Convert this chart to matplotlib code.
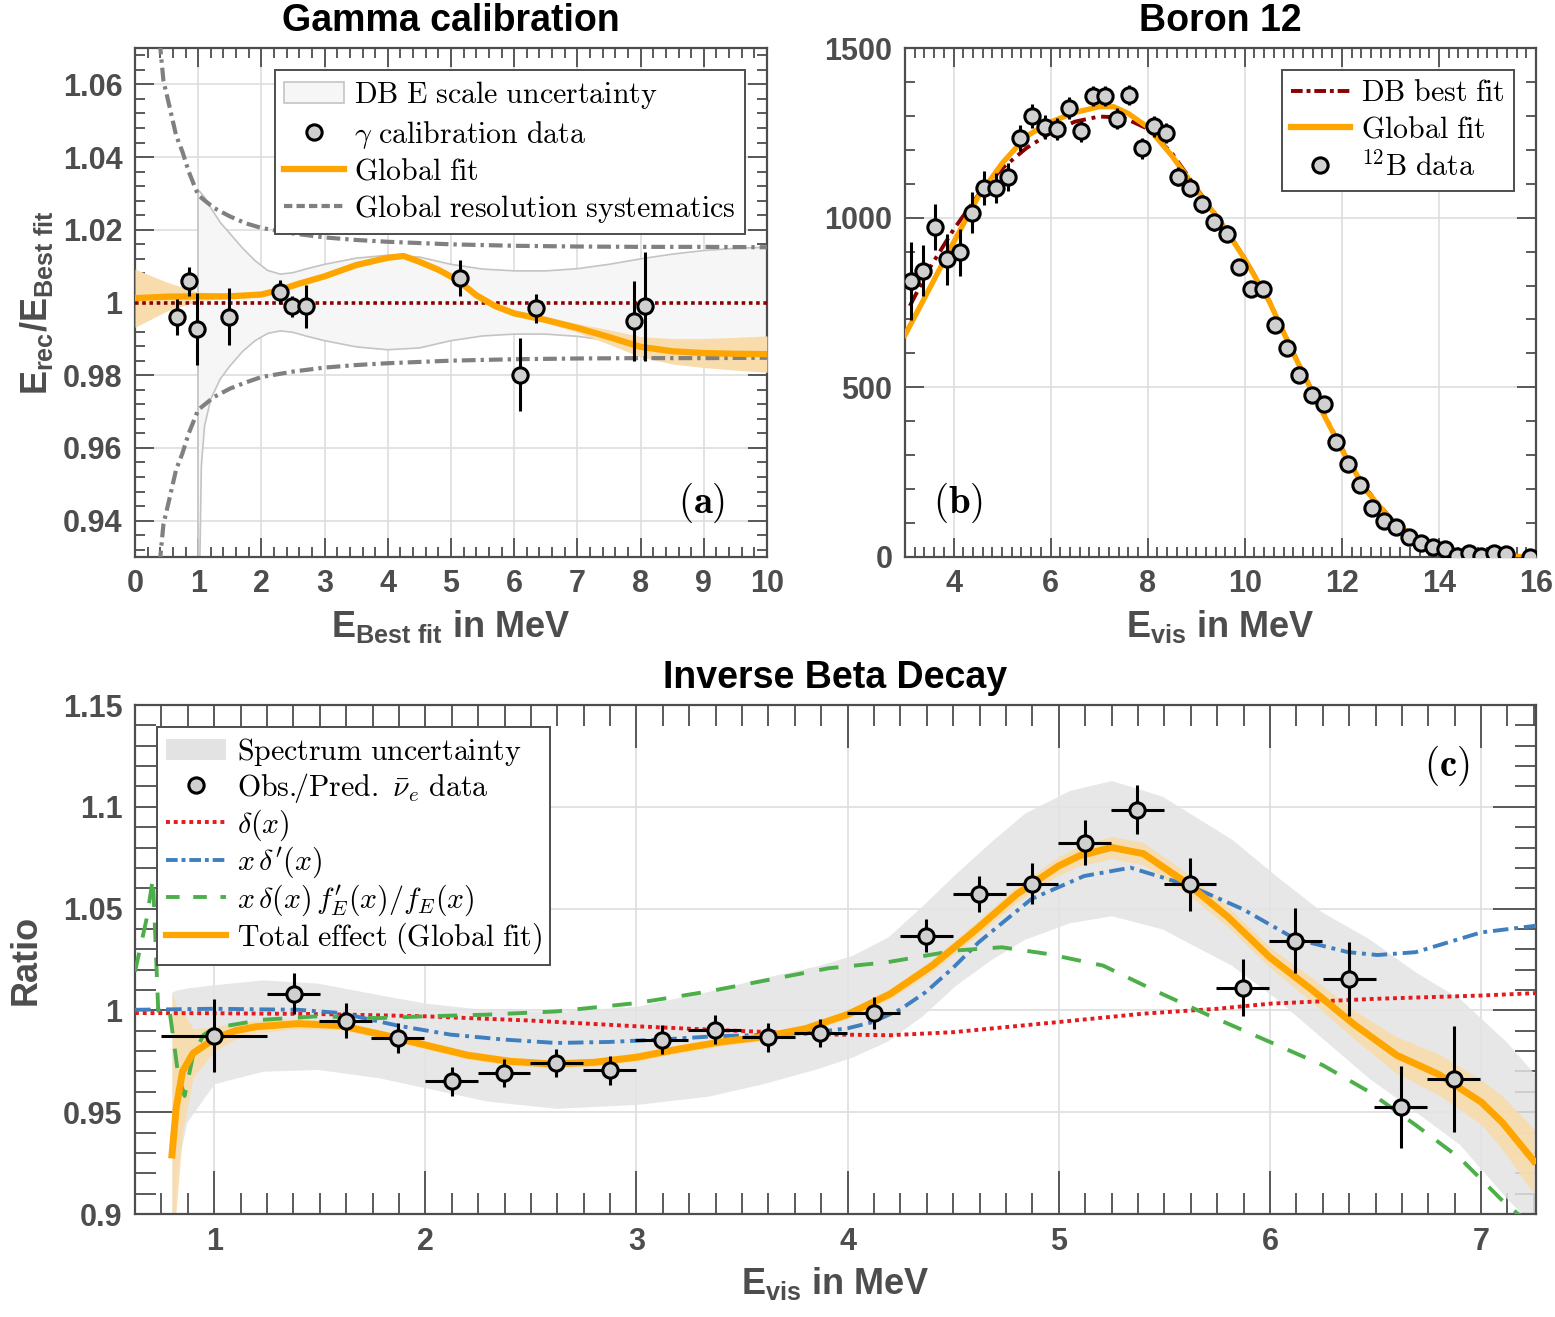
import numpy as np
import matplotlib
matplotlib.use("Agg")
import matplotlib.pyplot as plt
from matplotlib.ticker import MultipleLocator, FuncFormatter
from matplotlib.lines import Line2D
from matplotlib.patches import Patch

matplotlib.rcParams.update({
    "font.family":      "Liberation Sans",
    "font.weight":      "bold",
    "mathtext.fontset": "cm",
    "mathtext.rm":      "Liberation Sans:bold",
    "mathtext.it":      "Liberation Sans:bold",
    "mathtext.bf":      "Liberation Sans:bold",
})

AX_COL = "#4d4d4d"
ORANGE = "#ffa500"
ORANGE_BAND = "#f8dcac"
MARK_FC = "#d0d0d0"

# ---------------- (a) Gamma calibration ----------------
gam_x = [0.67, 0.85, 0.98, 1.48, 2.30, 2.49, 2.71, 5.14, 6.09, 6.35, 7.89, 8.07]
gam_y = [0.9961, 1.0058, 0.9927, 0.9961, 1.0029, 0.9989, 0.9989, 1.0067, 0.9801, 0.9984, 0.9949, 0.9989]
gam_err = [0.005, 0.004, 0.0098, 0.0078, 0.0033, 0.003, 0.006, 0.005, 0.010, 0.004, 0.011, 0.015]

fitA_x = [0, 0.5, 1, 1.5, 2, 2.3, 2.6, 3, 3.5, 4, 4.25, 4.5, 4.8, 5.1, 5.4, 5.7, 6, 6.5, 7, 7.5, 8, 8.5, 9, 9.5, 10]
fitA_y = [1.0012, 1.0016, 1.0017, 1.0017, 1.0022, 1.0035, 1.0052, 1.0072, 1.0103, 1.0123, 1.0128, 1.0112,
          1.009, 1.0062, 1.002, 0.999, 0.997, 0.9952, 0.993, 0.9905, 0.9878, 0.9866, 0.9861, 0.9859, 0.9858]
fitA_hw = [0.008, 0.004, 0.0012, 0.0006, 0.0005, 0.0005, 0.0005, 0.0005, 0.0005, 0.0005, 0.0005, 0.0005,
           0.0005, 0.0005, 0.0005, 0.0005, 0.0006, 0.0008, 0.0012, 0.002, 0.0028, 0.0035, 0.004, 0.0045, 0.005]

dbA_x = [1.0, 1.05, 1.1, 1.2, 1.35, 1.5, 1.7, 1.9, 2.1, 2.3, 2.5, 2.7, 3.0, 3.5, 4.0, 4.5, 5.0, 5.5, 6.0,
         6.5, 7.0, 7.5, 8.0, 8.5, 9.0, 9.5, 10.0]
dbA_hi = [1.031, 1.030, 1.029, 1.026, 1.022, 1.019, 1.015, 1.0115, 1.0088, 1.0078, 1.0082, 1.0092, 1.0105,
          1.0122, 1.013, 1.0125, 1.0105, 1.0092, 1.0087, 1.0087, 1.0093, 1.0105, 1.012, 1.0133, 1.0143,
          1.0149, 1.0152]
dbA_lo = [0.90, 0.955, 0.966, 0.9735, 0.979, 0.9825, 0.9865, 0.9895, 0.9915, 0.9922, 0.9918, 0.9908,
          0.9895, 0.9878, 0.987, 0.9875, 0.9895, 0.9908, 0.9913, 0.9913, 0.9907, 0.9895, 0.988, 0.9867,
          0.9857, 0.9851, 0.9848]

resA_x = [0.39, 0.45, 0.55, 0.65, 0.75, 0.85, 1.0, 1.25, 1.5, 1.75, 2.0, 2.5, 3.0, 3.5, 4.0, 5.0, 6.0, 7.0, 8.0, 9.0, 10.0]
resA_hi = [1.072, 1.061, 1.0536, 1.046, 1.0415, 1.036, 1.0295, 1.026, 1.0237, 1.0218, 1.0205, 1.019, 1.0179,
           1.0172, 1.0167, 1.016, 1.0156, 1.0154, 1.0153, 1.0153, 1.0152]
resA_lo = [0.928, 0.939, 0.9464, 0.954, 0.9585, 0.964, 0.9705, 0.974, 0.9763, 0.978, 0.9795, 0.981, 0.9821,
           0.9828, 0.9833, 0.984, 0.9844, 0.9846, 0.9847, 0.9847, 0.9848]

# ---------------- (b) Boron 12 ----------------
b_x = [3.125, 3.375, 3.625, 3.875, 4.125, 4.375, 4.625, 4.875, 5.125, 5.375, 5.625, 5.875, 6.125, 6.375,
       6.625, 6.875, 7.125, 7.375, 7.625, 7.875, 8.125, 8.375, 8.625, 8.875, 9.125, 9.375, 9.625, 9.875,
       10.125, 10.375, 10.625, 10.875, 11.125, 11.375, 11.625, 11.875, 12.125, 12.375, 12.625, 12.875,
       13.125, 13.375, 13.625, 13.875, 14.125, 14.375, 14.625, 14.875, 15.125, 15.375, 15.875]
b_y = [814, 844, 973, 878, 898, 1015, 1088, 1088, 1120, 1235, 1299, 1267, 1262, 1324, 1254, 1358, 1358,
       1292, 1362, 1204, 1269, 1249, 1120, 1088, 1040, 986, 953, 855, 789, 789, 684, 617, 537, 477, 450,
       340, 273, 211, 144, 105, 88, 60, 40, 30, 25, 2, 12, 2, 12, 8, 0]
b_err = [115, 75, 67, 75, 70, 60, 50, 45, 40, 38, 35, 35, 33, 32, 32, 30, 30, 30, 30, 30, 30, 30, 28, 28,
         27, 26, 25, 24, 23, 22, 21, 20, 19, 18, 17, 16, 15, 14, 13, 12, 11, 10, 9, 8, 7, 6, 6, 5, 5, 5, 4]

dbB_x = [3.1, 3.5, 4.0, 4.5, 5.0, 5.5, 6.0, 6.5, 7.0, 7.5, 8.0, 8.5, 9.0, 9.5, 10.0, 10.5, 11.0, 11.5,
         12.0, 12.5, 13.0, 13.5, 14.0, 14.5, 15.0, 15.5, 16.0]
dbB_y = [740, 850, 965, 1065, 1145, 1205, 1250, 1283, 1298, 1295, 1262, 1190, 1088, 990, 880, 757, 603,
         458, 320, 200, 115, 60, 28, 13, 5, 2, 0]
fitB_x = [3.0, 3.5, 4.0, 4.5, 5.0, 5.5, 6.0, 6.5, 7.0, 7.3, 7.6, 8.0, 8.5, 9.0, 9.5, 10.0, 10.5, 11.0,
          11.5, 12.0, 12.5, 13.0, 13.5, 14.0, 14.5, 15.0, 15.5, 16.0]
fitB_y = [654, 790, 927, 1060, 1160, 1240, 1282, 1310, 1327, 1327, 1307, 1267, 1182, 1083, 988, 878, 754,
          600, 455, 316, 196, 112, 57, 27, 12, 5, 2, 0]

# ---------------- (c) Inverse Beta Decay ----------------
ibd_x = [1.0, 1.376, 1.623, 1.87, 2.124, 2.373, 2.62, 2.873, 3.12, 3.37, 3.625, 3.87, 4.124, 4.373,
         4.623, 4.873, 5.122, 5.372, 5.621, 5.871, 6.121, 6.375, 6.62, 6.87]
ibd_y = [0.9876, 1.0082, 0.9949, 0.9865, 0.9652, 0.9693, 0.9742, 0.9705, 0.9856, 0.9905, 0.9868, 0.9889,
         0.9987, 1.0367, 1.0571, 1.0623, 1.0824, 1.0985, 1.062, 1.0111, 1.0343, 1.0154, 0.9525, 0.9664]
ibd_xerr = [0.25, 0.125, 0.125, 0.125, 0.125, 0.125, 0.125, 0.125, 0.125, 0.125, 0.125, 0.125, 0.125,
            0.125, 0.125, 0.125, 0.125, 0.125, 0.125, 0.125, 0.125, 0.125, 0.125, 0.125]
ibd_yerr = [0.018, 0.01, 0.0086, 0.0075, 0.007, 0.007, 0.007, 0.007, 0.007, 0.007, 0.007, 0.007, 0.008,
            0.008, 0.009, 0.01, 0.011, 0.012, 0.013, 0.014, 0.016, 0.018, 0.02, 0.026]

fitC_x = [0.80, 0.82, 0.85, 0.9, 1.0, 1.1, 1.2, 1.4, 1.6, 1.8, 2.0, 2.2, 2.4, 2.6, 2.8, 3.0, 3.2, 3.4,
          3.6, 3.8, 4.0, 4.2, 4.4, 4.6, 4.8, 5.0, 5.1, 5.25, 5.4, 5.6, 5.8, 6.0, 6.2, 6.4, 6.6, 6.8, 7.0,
          7.1, 7.25]
fitC_y = [0.929, 0.952, 0.970, 0.979, 0.986, 0.990, 0.992, 0.9935, 0.9925, 0.988, 0.983, 0.978, 0.975,
          0.9737, 0.9745, 0.977, 0.981, 0.9845, 0.987, 0.991, 0.998, 1.008, 1.022, 1.039, 1.057, 1.071,
          1.076, 1.080, 1.077, 1.063, 1.046, 1.026, 1.010, 0.993, 0.978, 0.9685, 0.955, 0.945, 0.926]
fitC_hw = [0.08, 0.05, 0.03, 0.012, 0.006, 0.004, 0.003, 0.0025, 0.002, 0.002, 0.002, 0.002, 0.002,
           0.002, 0.002, 0.002, 0.002, 0.002, 0.002, 0.002, 0.002, 0.0025, 0.003, 0.0035, 0.004, 0.0045,
           0.005, 0.0055, 0.0055, 0.005, 0.005, 0.005, 0.006, 0.007, 0.009, 0.010, 0.011, 0.013, 0.016]

specC_x = [0.8, 0.82, 0.87, 1.0, 1.23, 1.49, 1.78, 2.0, 2.29, 2.62, 3.0, 3.34, 3.6, 3.86, 4.02, 4.19,
           4.35, 4.51, 4.68, 4.84, 5.05, 5.25, 5.49, 5.82, 6.03, 6.25, 6.47, 6.69, 6.9, 7.12, 7.26]
specC_hi = [1.009, 1.010, 1.011, 1.0126, 1.015, 1.0134, 1.0077, 1.0036, 1.0003, 0.9995, 1.002, 1.0093,
            1.016, 1.022, 1.027, 1.036, 1.051, 1.067, 1.083, 1.097, 1.108, 1.1129, 1.1052, 1.084, 1.066,
            1.0481, 1.0351, 1.0188, 1.0057, 0.9845, 0.968]
specC_lo = [0.85, 0.92, 0.945, 0.964, 0.9701, 0.971, 0.9669, 0.962, 0.9555, 0.9519, 0.9538, 0.9579,
            0.964, 0.9715, 0.977, 0.985, 0.997, 1.0122, 1.025, 1.035, 1.043, 1.0465, 1.04, 1.022, 1.0057,
            0.9861, 0.9666, 0.9502, 0.934, 0.9078, 0.893]

delta_x = [0.625, 1.0, 1.5, 2.0, 2.5, 3.0, 3.4, 3.9, 4.2, 4.5, 5.0, 5.4, 5.75, 6.0, 6.5, 7.0, 7.26]
delta_y = [0.9987, 0.9986, 0.9982, 0.9971, 0.995, 0.9922, 0.9903, 0.9882, 0.9878, 0.9893, 0.9943, 0.9984,
           1.0008, 1.0033, 1.0057, 1.0073, 1.0085]

xdp_x = [0.625, 1.0, 1.4, 1.6, 1.87, 2.12, 2.37, 2.62, 2.87, 3.12, 3.37, 3.62, 3.86, 4.0, 4.12, 4.25,
         4.37, 4.5, 4.62, 4.87, 5.12, 5.34, 5.62, 5.87, 6.12, 6.37, 6.51, 6.69, 7.0, 7.26]
xdp_y = [1.0003, 1.0008, 1.0003, 0.9987, 0.9925, 0.9881, 0.9857, 0.984, 0.9845, 0.9857, 0.9873, 0.988,
         0.9894, 0.9912, 0.9943, 1.0005, 1.009, 1.021, 1.0334, 1.0547, 1.066, 1.0701, 1.0612, 1.0498,
         1.0351, 1.0286, 1.0272, 1.0286, 1.0383, 1.0416]

xdf_x = [0.625, 0.68, 0.71, 0.735, 0.76, 0.79, 0.83, 0.86, 0.90, 0.95, 1.0, 1.23, 1.49, 1.78, 2.0, 2.29,
         2.62, 3.0, 3.34, 3.91, 4.19, 4.51, 4.73, 4.95, 5.21, 5.47, 5.71, 6.0, 6.25, 6.47, 6.69, 6.9,
         7.12, 7.26]
xdf_y = [1.019, 1.045, 1.065, 1.0, 0.997, 0.999, 0.968, 0.958, 0.978, 0.988, 0.9914, 0.9954, 0.9971,
         0.9962, 0.9971, 0.9979, 0.9995, 1.0036, 1.0093, 1.0207, 1.0237, 1.0294, 1.031, 1.0277, 1.022,
         1.009, 0.9976, 0.9845, 0.9731, 0.96, 0.9437, 0.9274, 0.9046, 0.893]


def style_axes(ax, major_len, minor_len):
    for s in ax.spines.values():
        s.set_linewidth(1.6)
        s.set_color(AX_COL)
    ax.tick_params(which="both", direction="in", top=True, right=True,
                   color=AX_COL, labelcolor=AX_COL, width=1.3, labelsize=22)
    ax.tick_params(which="major", length=major_len, pad=9)
    ax.tick_params(which="minor", length=minor_len)
    ax.grid(True, which="major", color="#dedede", linewidth=1.2)
    ax.set_axisbelow(True)
    ax.yaxis.set_major_formatter(FuncFormatter(lambda v, _: f"{round(v, 6):g}"))
    ax.xaxis.set_major_formatter(FuncFormatter(lambda v, _: f"{round(v, 6):g}"))


def errpts(ax, x, y, yerr, xerr=None):
    ax.errorbar(x, y, yerr=yerr, xerr=xerr, fmt="o", ms=11, mfc=MARK_FC, mec="k", mew=2.2,
                ecolor="k", elinewidth=2.2, capsize=0, zorder=10)


def leg(ax, handles, labels, loc, spacing):
    lg = ax.legend(handles, labels, loc=loc, fontsize=21.5, frameon=True, fancybox=False,
                   edgecolor=AX_COL, framealpha=1, borderaxespad=0.75, handlelength=2.0,
                   handletextpad=0.35, labelspacing=spacing, borderpad=0.3)
    lg.get_frame().set_linewidth(1.4)
    for t in lg.get_texts():
        t.set_math_fontfamily("cm")
    return lg


W, H = 1555, 1317
fig = plt.figure(figsize=(W / 100, H / 100), dpi=100)


def px_axes(l, r, t, b):
    return fig.add_axes([l / W, 1 - b / H, (r - l) / W, (b - t) / H])


title_kw = dict(fontsize=27, fontweight="bold", color="black", pad=12)
label_kw = dict(fontsize=26, fontweight="bold", color=AX_COL, math_fontfamily="custom")

# ---- panel (a)
axa = px_axes(135, 767, 48, 557)
style_axes(axa, 14, 7.5)
axa.fill_between(dbA_x, dbA_lo, dbA_hi, facecolor="#f6f6f6", edgecolor="none", zorder=1)
axa.plot(dbA_x, dbA_hi, color="#c4c4c4", lw=1.2, zorder=2)
axa.plot(dbA_x, dbA_lo, color="#c4c4c4", lw=1.2, zorder=2)
axa.plot([dbA_x[0], dbA_x[0]], [dbA_lo[0], dbA_hi[0]], color="#c4c4c4", lw=1.2, zorder=2)
fa_y = np.array(fitA_y)
fa_hw = np.array(fitA_hw)
axa.fill_between(fitA_x, fa_y - fa_hw, fa_y + fa_hw, color=ORANGE_BAND, lw=0, zorder=3)
rs_style = (0, (3.3, 1.2, 0.8, 1.2))
axa.plot(resA_x, resA_hi, color="#808080", lw=3, ls=rs_style, zorder=4)
axa.plot(resA_x, resA_lo, color="#808080", lw=3, ls=rs_style, zorder=4)
axa.axhline(1.0, color="#8b0000", lw=2.6, ls=(0, (1, 1)), zorder=5)
axa.plot(fitA_x, fitA_y, color=ORANGE, lw=4.5, zorder=6)
errpts(axa, gam_x, gam_y, gam_err)
axa.set_xlim(0, 10)
axa.set_ylim(0.93, 1.07)
axa.set_xticks(np.arange(0, 11, 1))
axa.set_yticks([0.94, 0.96, 0.98, 1.0, 1.02, 1.04, 1.06])
axa.xaxis.set_minor_locator(MultipleLocator(0.2))
axa.yaxis.set_minor_locator(MultipleLocator(0.004))
axa.set_title("Gamma calibration", **title_kw)
axa.set_xlabel(r"$E_{\mathrm{Best\ fit}}$ in MeV", labelpad=6, **label_kw)
axa.set_ylabel(r"$E_{\mathrm{rec}}/E_{\mathrm{Best\ fit}}$", labelpad=6, **label_kw)
axa.text(0.897, 0.106, r"$\mathbf{(a)}$", transform=axa.transAxes, fontsize=28,
         ha="center", va="center", math_fontfamily="cm", zorder=12)
leg(axa,
    [Patch(facecolor="#f6f6f6", edgecolor="#c4c4c4", lw=1.2),
     Line2D([], [], ls="none", marker="o", ms=11, mfc=MARK_FC, mec="k", mew=2.2),
     Line2D([], [], color=ORANGE, lw=4.5),
     Line2D([], [], color="#808080", lw=3, ls=(0, (2, 1)))],
    [r"$\mathrm{DB\ E\ scale\ uncertainty}$", r"$\gamma\ \mathrm{calibration\ data}$",
     r"$\mathrm{Global\ fit}$", r"$\mathrm{Global\ resolution\ systematics}$"],
    "upper right", 0.24)

# ---- panel (b)
axb = px_axes(905, 1536, 48, 557)
style_axes(axb, 14, 7.5)
axb.plot(dbB_x, dbB_y, color="#8b0000", lw=2.8, ls=(0, (4, 1.5, 1, 1.5)), zorder=4)
axb.plot(fitB_x, fitB_y, color=ORANGE, lw=3.8, zorder=5)
errpts(axb, b_x, b_y, b_err)
axb.set_xlim(3, 16)
axb.set_ylim(0, 1500)
axb.set_xticks(np.arange(4, 17, 2))
axb.set_yticks([0, 500, 1000, 1500])
axb.xaxis.set_minor_locator(MultipleLocator(0.2))
axb.yaxis.set_minor_locator(MultipleLocator(100))
axb.set_title("Boron 12", **title_kw)
axb.set_xlabel(r"$E_{\mathrm{vis}}$ in MeV", labelpad=6, **label_kw)
axb.text(0.084, 0.106, r"$\mathbf{(b)}$", transform=axb.transAxes, fontsize=28,
         ha="center", va="center", math_fontfamily="cm", zorder=12)
leg(axb,
    [Line2D([], [], color="#8b0000", lw=2.8, ls=(0, (3, 1, 1, 1))),
     Line2D([], [], color=ORANGE, lw=4.5),
     Line2D([], [], ls="none", marker="o", ms=11, mfc=MARK_FC, mec="k", mew=2.2)],
    [r"$\mathrm{DB\ best\ fit}$", r"$\mathrm{Global\ fit}$", r"$^{12}\mathrm{B\ data}$"],
    "upper right", 0.26)

# ---- panel (c)
axc = px_axes(135, 1536, 705, 1214)
style_axes(axc, 31, 15)
axc.fill_between(specC_x, specC_lo, specC_hi, color="#e3e3e3", alpha=0.85, lw=0, zorder=1)
fc_y = np.array(fitC_y)
fc_hw = np.array(fitC_hw)
axc.fill_between(fitC_x, fc_y - fc_hw, fc_y + fc_hw, color=ORANGE_BAND, alpha=0.9, lw=0, zorder=2)
axc.plot(delta_x, delta_y, color="#e41a1c", lw=2.8, ls=(0, (1, 1)), zorder=4)
axc.plot(xdp_x, xdp_y, color="#3f7fbf", lw=2.8, ls=(0, (4, 1.5, 1, 1.5)), zorder=4)
axc.plot(xdf_x, xdf_y, color="#4daf4a", lw=2.8, ls=(0, (5, 4)), zorder=4)
axc.plot(fitC_x, fitC_y, color=ORANGE, lw=5, zorder=5)
errpts(axc, ibd_x, ibd_y, ibd_yerr, ibd_xerr)
axc.set_xlim(0.625, 7.26)
axc.set_ylim(0.9, 1.15)
axc.set_xticks(np.arange(1, 8, 1))
axc.set_yticks([0.9, 0.95, 1.0, 1.05, 1.1, 1.15])
axc.xaxis.set_minor_locator(MultipleLocator(0.125))
axc.yaxis.set_minor_locator(MultipleLocator(0.01))
axc.set_title("Inverse Beta Decay", **title_kw)
axc.set_xlabel(r"$E_{\mathrm{vis}}$ in MeV", labelpad=6, **label_kw)
axc.set_ylabel("Ratio", labelpad=14, **label_kw)
axc.text(0.9365, 0.88, r"$\mathbf{(c)}$", transform=axc.transAxes, fontsize=28,
         ha="center", va="center", math_fontfamily="cm", zorder=12)
leg(axc,
    [Patch(facecolor="#e3e3e3", edgecolor="none"),
     Line2D([], [], ls="none", marker="o", ms=11, mfc=MARK_FC, mec="k", mew=2.2),
     Line2D([], [], color="#e41a1c", lw=2.8, ls=(0, (1, 1))),
     Line2D([], [], color="#3f7fbf", lw=2.8, ls=(0, (3, 1, 1, 1))),
     Line2D([], [], color="#4daf4a", lw=2.8, ls=(0, (3.5, 3.5))),
     Line2D([], [], color=ORANGE, lw=4.5)],
    [r"$\mathrm{Spectrum\ uncertainty}$", r"$\mathrm{Obs.}\!\!/\mathrm{Pred.}\ \bar{\nu}_e\ \mathrm{data}$",
     r"$\delta(x)$", r"$x\,\delta^{\prime}(x)$", r"$x\,\delta(x)\,f_E^{\prime}(x)/f_E(x)$",
     r"$\mathrm{Total\ effect\ (Global\ fit)}$"],
    "upper left", 0.08)

fig.savefig("out.png", dpi=100, facecolor="white")
